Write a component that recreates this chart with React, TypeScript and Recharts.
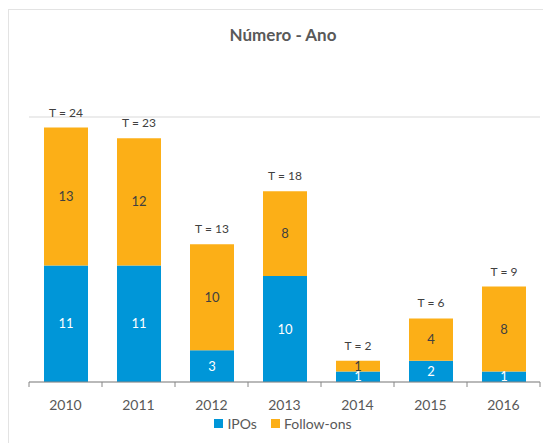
import { BarChart, Bar, XAxis, YAxis, CartesianGrid, LabelList } from "recharts";

const years = ["2010", "2011", "2012", "2013", "2014", "2015", "2016"];
const ipos = [11, 11, 3, 10, 1, 2, 1];
const followOns = [13, 12, 10, 8, 1, 4, 8];
const yTicks = [0, 5, 10, 15, 20, 25];

const data = years.map((year, i) => ({
  year,
  ipos: ipos[i],
  followOns: followOns[i],
  total: ipos[i] + followOns[i],
}));

const W = 543;
const H = 443;
// x axis keeps its default 30px height, so bottom margin = 61 - 30
const margin = { top: 117, right: 3, bottom: 31, left: 29 };
const catW = (W - margin.left - margin.right) / years.length;
const font = "Lato, 'Open Sans', sans-serif";
const BLUE = "#0096d8";
const ORANGE = "#fcaf17";

const YearTick = (props: any) => {
  const { x, y, payload, index } = props;
  const left = x - catW / 2;
  return (
    <g>
      <line x1={left} y1={y} x2={left} y2={y + 5} stroke="#868686" />
      {index === years.length - 1 && (
        <line x1={x + catW / 2} y1={y} x2={x + catW / 2} y2={y + 5} stroke="#868686" />
      )}
      <text x={x} y={y + 28} textAnchor="middle" fill="#595959" fontSize={14} fontFamily={font}>
        {payload.value}
      </text>
    </g>
  );
};

const TotalLabel = (props: any) => {
  const { x, y, width, index } = props;
  return (
    <text x={x + width / 2} y={y - 11} textAnchor="middle" fill="#404040" fontSize={12} fontFamily={font}>
      {`T = ${data[index].total}`}
    </text>
  );
};

const legendItems = [
  { name: "IPOs", color: BLUE },
  { name: "Follow-ons", color: ORANGE },
];

export default function App() {
  return (
    <div style={{ position: "absolute", left: 0, top: 0, width: W, height: H, background: "#fff", overflow: "hidden" }}>
      <div
        style={{
          position: "absolute",
          left: 8,
          top: 9,
          width: W,
          height: H,
          borderLeft: "1px solid #e3e3e3",
          borderTop: "1px solid #e3e3e3",
        }}
      />
      <div
        style={{
          position: "absolute",
          left: 0,
          top: 24,
          width: 566,
          textAlign: "center",
          fontFamily: font,
          fontWeight: 700,
          fontSize: 17,
          color: "#595959",
        }}
      >
        Número - Ano
      </div>
      <div style={{ position: "absolute", left: 0, top: 0 }}>
        <BarChart width={W} height={H} data={data} margin={margin} barSize={44}>
          <CartesianGrid vertical={false} stroke="#d9d9d9" />
          <XAxis
            dataKey="year"
            axisLine={{ stroke: "#868686" }}
            tickLine={false}
            tickSize={0}
            tickMargin={0}
            tick={<YearTick />}
            interval={0}
          />
          <YAxis width={0} domain={[0, 25]} ticks={yTicks} axisLine={false} tickLine={false} tick={false} />
          <Bar dataKey="ipos" name="IPOs" stackId="a" fill={BLUE} isAnimationActive={false}>
            <LabelList dataKey="ipos" position="center" fill="#ffffff" fontSize={13} fontFamily={font} />
          </Bar>
          <Bar dataKey="followOns" name="Follow-ons" stackId="a" fill={ORANGE} isAnimationActive={false}>
            <LabelList dataKey="followOns" position="center" fill="#404040" fontSize={13} fontFamily={font} />
            <LabelList dataKey="total" content={<TotalLabel />} />
          </Bar>
        </BarChart>
      </div>
      <div
        style={{
          position: "absolute",
          left: 0,
          top: 415,
          width: 566,
          display: "flex",
          justifyContent: "center",
          gap: 14,
          fontFamily: font,
          fontSize: 14,
          color: "#595959",
        }}
      >
        {legendItems.map((it) => (
          <div key={it.name} style={{ display: "flex", alignItems: "center", gap: 4 }}>
            <span style={{ display: "inline-block", width: 9, height: 9, background: it.color }} />
            <span>{it.name}</span>
          </div>
        ))}
      </div>
    </div>
  );
}
